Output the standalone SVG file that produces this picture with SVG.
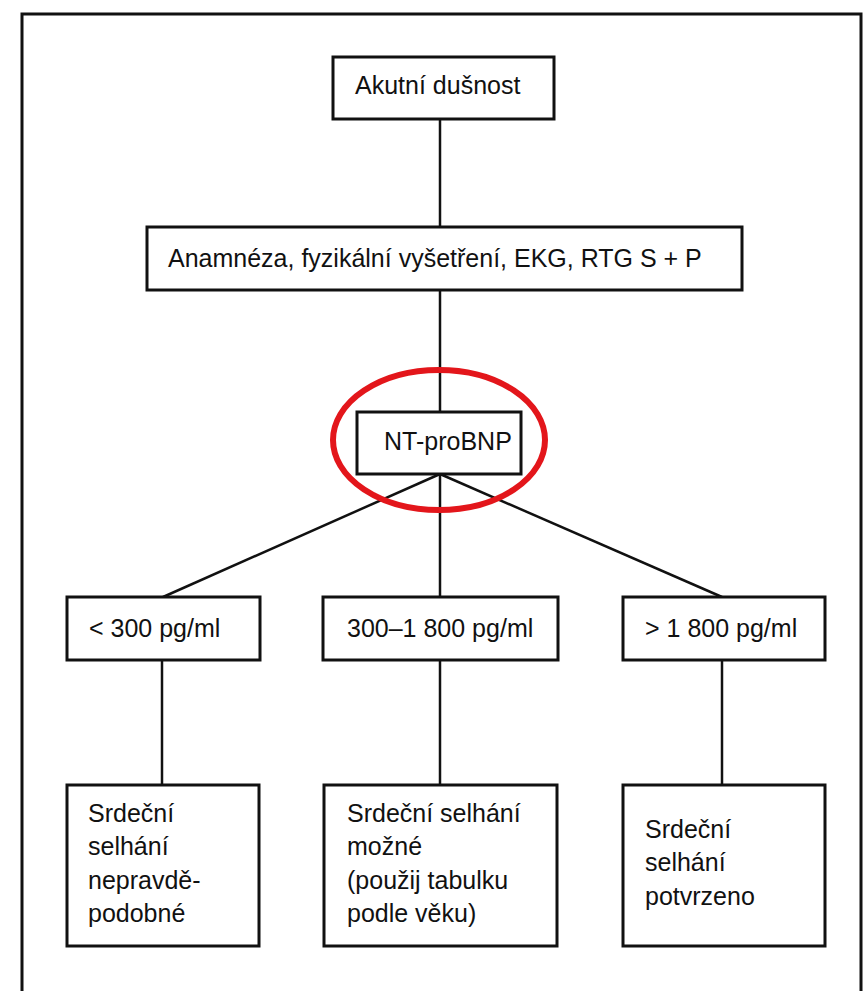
<svg xmlns="http://www.w3.org/2000/svg" width="864" height="991" viewBox="0 0 864 991">
<style>
.box{fill:#fff;stroke:#111;stroke-width:3}
.ln{stroke:#111;stroke-width:2.5;fill:none}
text{font-family:"Liberation Sans",Arial,sans-serif;font-size:25px;fill:#111}
</style>
<rect x="0" y="0" width="864" height="991" fill="#fff"/>
<rect x="22" y="14" width="839" height="1000" fill="none" stroke="#111" stroke-width="3"/>
<g id="connectors">
<line class="ln" x1="440" y1="119" x2="440" y2="227"/>
<line class="ln" x1="440" y1="290" x2="440" y2="412"/>
<line class="ln" x1="440" y1="474" x2="163" y2="597"/>
<line class="ln" x1="440" y1="474" x2="440" y2="597"/>
<line class="ln" x1="440" y1="474" x2="722" y2="597"/>
<line class="ln" x1="162" y1="660" x2="162" y2="785"/>
<line class="ln" x1="440" y1="660" x2="440" y2="785"/>
<line class="ln" x1="722" y1="660" x2="722" y2="785"/>
</g>
<g id="n1"><rect class="box" x="333" y="57" width="221" height="62"/><text x="355" y="94">Akutní dušnost</text></g>
<g id="n2"><rect class="box" x="147" y="227" width="595" height="63"/><text x="168" y="267">Anamnéza, fyzikální vyšetření, EKG, RTG S + P</text></g>
<g id="n3"><rect class="box" x="357" y="412" width="164" height="62"/><text x="384" y="450">NT-proBNP</text></g>
<g id="n4"><rect class="box" x="67" y="597" width="193" height="63"/><text x="89" y="637">&lt; 300 pg/ml</text></g>
<g id="n5"><rect class="box" x="323" y="597" width="235" height="63"/><text x="347" y="637">300–1 800 pg/ml</text></g>
<g id="n6"><rect class="box" x="623" y="597" width="202" height="63"/><text x="645" y="637">&gt; 1 800 pg/ml</text></g>
<g id="n7"><rect class="box" x="67" y="785" width="192" height="161"/>
<text x="88" y="822">Srdeční</text><text x="88" y="855">selhání</text><text x="88" y="889">nepravdě-</text><text x="88" y="922">podobné</text></g>
<g id="n8"><rect class="box" x="324" y="785" width="233" height="161"/>
<text x="347" y="822">Srdeční selhání</text><text x="347" y="855">možné</text><text x="347" y="889">(použij tabulku</text><text x="347" y="922">podle věku)</text></g>
<g id="n9"><rect class="box" x="623" y="785" width="202" height="161"/>
<text x="645" y="838">Srdeční</text><text x="645" y="871">selhání</text><text x="645" y="905">potvrzeno</text></g>
<ellipse id="highlight" cx="439" cy="440" rx="106" ry="70" fill="none" stroke="#e3161b" stroke-width="6"/>
</svg>
